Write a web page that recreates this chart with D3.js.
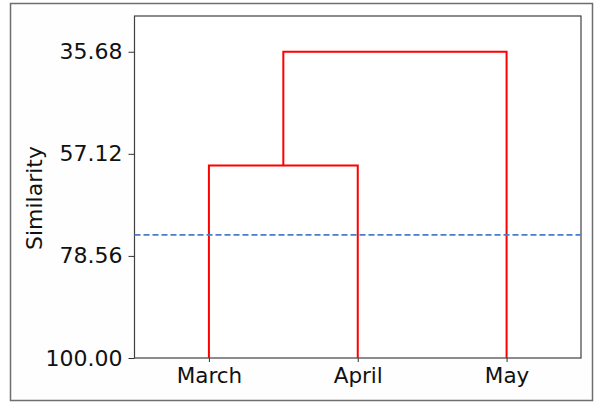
<!DOCTYPE html>
<html>
<head>
<meta charset="utf-8">
<script src="https://cdn.jsdelivr.net/npm/d3@7"></script>
<style>
  html, body { margin: 0; padding: 0; background: #ffffff; }
  svg { display: block; font-family: "DejaVu Sans", Verdana, sans-serif; }
</style>
</head>
<body>
<svg id="chart" width="595" height="402"></svg>
<script>
// Observations (leaves of the dendrogram)
const categories = ["March", "April", "May"];
// Merge steps: [left member, right member, similarity level]
const mergeLeft = ["March", "March+April"];
const mergeRight = ["April", "May"];
const mergeLevel = [59.56, 35.68];
// Similarity axis
const yTicks = [35.68, 57.12, 78.56, 100.00];
const yDomain = [100, 28.17];
const cutLevel = 74.15;

const svg = d3.select("#chart");
const W = 595, H = 402;
const margin = { left: 134.5, right: 14, top: 16, bottom: 44 };
const x0 = margin.left, x1 = W - margin.right;
const y0 = margin.top, y1 = H - margin.bottom;

// Figure frame
svg.append("rect")
  .attr("x", 10.5).attr("y", 3.5)
  .attr("width", 582).attr("height", 397)
  .attr("fill", "#fefefe")
  .attr("stroke", "#6e6e6e").attr("stroke-width", 1.5);

const x = d3.scalePoint().domain(categories).range([x0, x1]).padding(0.5);
const y = d3.scaleLinear().domain(yDomain).range([y1, y0]);

// Plot area
svg.append("rect")
  .attr("x", x0).attr("y", y0)
  .attr("width", x1 - x0).attr("height", y1 - y0)
  .attr("fill", "#ffffff")
  .attr("stroke", "#404040").attr("stroke-width", 1.2);

// Axes
const yAxis = d3.axisLeft(y).tickValues(yTicks).tickFormat(d3.format(".2f"))
  .tickSize(6).tickPadding(6);
const gy = svg.append("g").attr("transform", `translate(${x0},0)`).call(yAxis);
gy.select(".domain").remove();
gy.selectAll("line").attr("stroke", "#333");
gy.selectAll("text").attr("font-size", 22).attr("fill", "#111")
  .attr("font-family", "DejaVu Sans, Verdana, sans-serif");

const xAxis = d3.axisBottom(x).tickSize(4).tickPadding(6);
const gx = svg.append("g").attr("transform", `translate(0,${y1})`).call(xAxis);
gx.select(".domain").remove();
gx.selectAll("line").attr("stroke", "#333");
gx.selectAll("text").attr("font-size", 21.5).attr("fill", "#111")
  .attr("font-family", "DejaVu Sans, Verdana, sans-serif");

// Axis title
svg.append("text")
  .attr("transform", `translate(42,${198}) rotate(-90)`)
  .attr("text-anchor", "middle")
  .attr("font-size", 22)
  .attr("fill", "#111")
  .text("Similarity");

// Dendrogram: each node has an x position and a height
const nodes = {};
categories.forEach(c => { nodes[c] = { x: x(c), h: 100 }; });
const links = [];
mergeLeft.forEach((a, i) => {
  const b = mergeRight[i];
  const A = nodes[a], B = nodes[b], lvl = mergeLevel[i];
  links.push([[A.x, y(A.h)], [A.x, y(lvl)], [B.x, y(lvl)], [B.x, y(B.h)]]);
  nodes[a + "+" + b] = { x: (A.x + B.x) / 2, h: lvl };
});

svg.append("g").selectAll("path").data(links).join("path")
  .attr("d", d => d3.line()(d))
  .attr("fill", "none")
  .attr("stroke", "#ff0000")
  .attr("stroke-width", 2);

// Cut line
svg.append("line")
  .attr("x1", x0).attr("x2", x1)
  .attr("y1", y(cutLevel)).attr("y2", y(cutLevel))
  .attr("stroke", "#4a7cc9")
  .attr("stroke-width", 1.6)
  .attr("stroke-dasharray", "6,3");
</script>
</body>
</html>
